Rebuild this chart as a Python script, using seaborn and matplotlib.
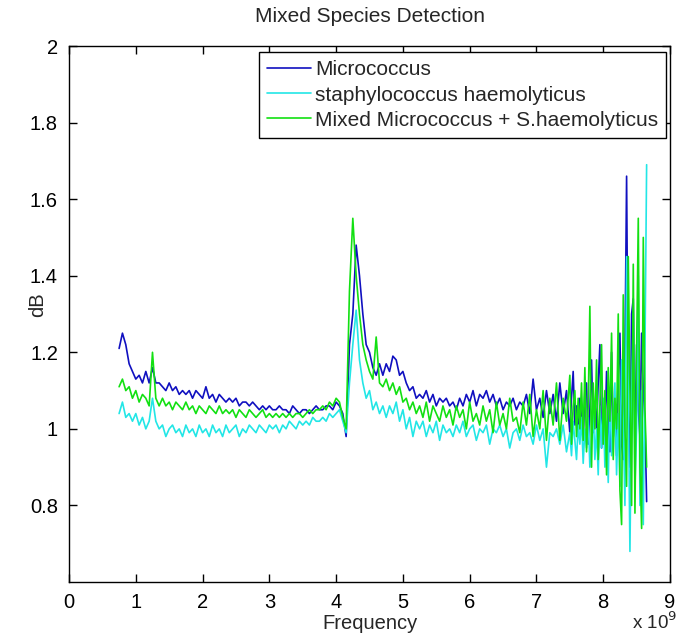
import numpy as np
import pandas as pd
import matplotlib
matplotlib.use("Agg")
import matplotlib.pyplot as plt
import seaborn as sns

# frequency sweep (x 10^9 Hz); finer where the traces get noisy
freq_ghz = [
    0.75, 0.80, 0.85, 0.90, 0.95, 1.00, 1.05, 1.10, 1.15, 1.20,
    1.25, 1.30, 1.35, 1.40, 1.45, 1.50, 1.55, 1.60, 1.65, 1.70,
    1.75, 1.80, 1.85, 1.90, 1.95, 2.00, 2.05, 2.10, 2.15, 2.20,
    2.25, 2.30, 2.35, 2.40, 2.45, 2.50, 2.55, 2.60, 2.65, 2.70,
    2.75, 2.80, 2.85, 2.90, 2.95, 3.00, 3.05, 3.10, 3.15, 3.20,
    3.25, 3.30, 3.35, 3.40, 3.45, 3.50, 3.55, 3.60, 3.65, 3.70,
    3.75, 3.80, 3.85, 3.90, 3.95, 4.00, 4.05, 4.10, 4.15, 4.20,
    4.25, 4.30, 4.35, 4.40, 4.45, 4.50, 4.55, 4.60, 4.65, 4.70,
    4.75, 4.80, 4.85, 4.90, 4.95, 5.00, 5.05, 5.10, 5.15, 5.20,
    5.25, 5.30, 5.35, 5.40, 5.45, 5.50, 5.55, 5.60, 5.65, 5.70,
    5.75, 5.80, 5.85, 5.90, 5.95, 6.00, 6.05, 6.10, 6.15, 6.20,
    6.25, 6.30, 6.35, 6.40, 6.45, 6.50, 6.55, 6.60, 6.65, 6.70,
    6.75, 6.80, 6.85, 6.90, 6.95, 7.00, 7.05, 7.10, 7.15, 7.20,
    7.25, 7.30, 7.35, 7.40, 7.45,
    7.500, 7.525, 7.550, 7.575, 7.600, 7.625, 7.650, 7.675, 7.700, 7.725,
    7.750, 7.775, 7.800, 7.825, 7.850, 7.875, 7.900, 7.925, 7.950, 7.975,
    8.000, 8.025, 8.050, 8.075, 8.100, 8.125, 8.150, 8.175, 8.200, 8.225,
    8.250, 8.275, 8.300, 8.325, 8.350, 8.375, 8.400, 8.425, 8.450, 8.475,
    8.500, 8.525, 8.550, 8.575, 8.600, 8.625, 8.650,
]

micrococcus = [
    1.21, 1.25, 1.22, 1.17, 1.15, 1.13, 1.14, 1.12, 1.15, 1.12,
    1.16, 1.12, 1.12, 1.11, 1.10, 1.12, 1.10, 1.11, 1.09, 1.10,
    1.09, 1.10, 1.08, 1.10, 1.09, 1.08, 1.11, 1.08, 1.09, 1.07,
    1.09, 1.08, 1.07, 1.08, 1.07, 1.08, 1.06, 1.07, 1.07, 1.06,
    1.07, 1.06, 1.05, 1.06, 1.05, 1.06, 1.05, 1.05, 1.06, 1.05,
    1.05, 1.04, 1.06, 1.05, 1.04, 1.05, 1.05, 1.04, 1.05, 1.06,
    1.05, 1.05, 1.06, 1.06, 1.05, 1.07, 1.06, 1.04, 0.98, 1.22,
    1.30, 1.48, 1.40, 1.30, 1.22, 1.20, 1.16, 1.14, 1.17, 1.14,
    1.17, 1.15, 1.19, 1.18, 1.14, 1.15, 1.12, 1.10, 1.11, 1.08,
    1.09, 1.08, 1.10, 1.07, 1.09, 1.06, 1.08, 1.07, 1.08, 1.06,
    1.07, 1.05, 1.08, 1.06, 1.09, 1.07, 1.10, 1.06, 1.09, 1.08,
    1.10, 1.07, 1.09, 1.06, 1.08, 1.05, 1.07, 1.06, 1.08, 1.05,
    1.07, 1.06, 1.09, 1.04, 1.13, 1.05, 1.08, 1.03, 1.10, 1.04,
    1.09, 1.02, 1.12, 1.04, 1.10,
    0.99, 1.08, 1.15, 1.01, 1.06, 0.98, 1.08, 1.03, 0.97, 1.10,
    1.12, 0.96, 1.05, 1.18, 0.99, 1.07, 1.00, 1.12, 1.22, 0.95,
    1.06, 0.97, 1.15, 1.02, 0.94, 1.20, 0.98, 1.08, 0.93, 1.14,
    1.25, 0.96, 0.92, 1.18, 1.66, 1.05, 0.90, 1.30, 1.34, 0.95,
    1.22, 1.05, 0.98, 1.25, 1.10, 1.02, 0.81,
]

staph_haemolyticus = [
    1.04, 1.07, 1.03, 1.04, 1.02, 1.04, 1.01, 1.03, 1.00, 1.02,
    1.08, 1.02, 1.00, 1.01, 0.98, 1.00, 1.01, 0.99, 1.00, 0.98,
    1.01, 0.99, 1.00, 0.98, 1.01, 0.99, 1.00, 0.98, 1.01, 0.99,
    1.00, 0.98, 1.01, 0.99, 1.00, 1.01, 0.98, 1.00, 0.99, 1.01,
    1.00, 0.99, 1.01, 1.00, 0.99, 1.01, 1.00, 1.01, 0.99, 1.01,
    1.00, 1.02, 1.01, 1.00, 1.02, 1.01, 1.02, 1.01, 1.03, 1.02,
    1.02, 1.03, 1.02, 1.04, 1.03, 1.04, 1.05, 1.02, 0.99, 1.12,
    1.22, 1.31, 1.18, 1.12, 1.08, 1.10, 1.05, 1.07, 1.04, 1.06,
    1.03, 1.06, 1.04, 1.07, 1.02, 1.05, 1.00, 1.03, 0.98, 1.02,
    1.00, 1.02, 0.98, 1.01, 0.99, 1.02, 0.97, 1.01, 0.99, 1.00,
    0.98, 1.01, 0.99, 1.02, 0.98, 1.00, 1.01, 0.97, 1.00, 0.99,
    1.01, 0.96, 1.00, 0.99, 1.01, 0.98, 1.00, 0.95, 0.99, 1.00,
    0.97, 1.01, 0.98, 0.99, 0.96, 1.01, 0.97, 1.00, 0.90, 0.99,
    0.98, 1.00, 0.96, 1.01, 0.94,
    0.99, 0.93, 1.02, 0.97, 0.92, 1.01, 0.96, 1.03, 0.91, 1.00,
    0.95, 1.03, 0.90, 0.98, 1.05, 0.92, 1.00, 0.88, 1.06, 0.95,
    1.08, 0.90, 1.02, 0.86, 1.10, 0.93, 0.98, 1.12, 0.88, 1.04,
    0.85, 1.18, 1.02, 0.80, 1.45, 1.10, 0.68, 1.08, 1.30, 0.85,
    1.00, 1.40, 0.80, 1.10, 0.75, 1.20, 1.69,
]

mixed = [
    1.11, 1.13, 1.10, 1.11, 1.08, 1.10, 1.07, 1.09, 1.08, 1.06,
    1.20, 1.08, 1.06, 1.08, 1.06, 1.07, 1.05, 1.07, 1.06, 1.05,
    1.07, 1.05, 1.06, 1.04, 1.06, 1.05, 1.04, 1.06, 1.05, 1.04,
    1.06, 1.04, 1.05, 1.04, 1.05, 1.03, 1.05, 1.04, 1.03, 1.05,
    1.04, 1.03, 1.04, 1.05, 1.03, 1.04, 1.03, 1.04, 1.03, 1.04,
    1.03, 1.04, 1.03, 1.04, 1.04, 1.03, 1.04, 1.05, 1.04, 1.05,
    1.05, 1.06, 1.05, 1.07, 1.06, 1.08, 1.07, 1.03, 1.00, 1.36,
    1.55, 1.40, 1.30, 1.22, 1.18, 1.15, 1.13, 1.24, 1.12, 1.11,
    1.13, 1.10, 1.12, 1.09, 1.11, 1.07, 1.08, 1.05, 1.07, 1.04,
    1.06, 1.03, 1.07, 1.02, 1.06, 1.04, 1.02, 1.06, 1.03, 1.05,
    1.01, 1.06, 1.03, 1.05, 1.00, 1.07, 1.02, 1.04, 1.01, 1.06,
    1.02, 1.05, 0.99, 1.07, 1.01, 1.04, 1.00, 1.08, 1.02, 1.03,
    0.99, 1.07, 1.01, 1.09, 0.98, 1.05, 1.00, 1.10, 0.97, 1.08,
    1.01, 1.12, 0.97, 1.08, 1.02,
    1.14, 0.96, 1.06, 1.10, 0.98, 1.08, 1.00, 1.12, 0.97, 1.16,
    0.94, 1.06, 1.32, 0.90, 1.12, 1.00, 1.18, 0.92, 1.06, 1.22,
    0.96, 1.10, 0.88, 1.16, 1.02, 1.25, 0.92, 1.08, 1.00, 1.30,
    0.84, 0.75, 1.35, 1.00, 0.85, 1.45, 1.10, 0.80, 1.43, 0.78,
    1.20, 1.55, 0.90, 0.74, 1.50, 1.05, 0.90,
]

series_names = ["Micrococcus", "staphylococcus haemolyticus",
                "Mixed Micrococcus + S.haemolyticus"]
series_colors = ["#1010C0", "#22E6E6", "#12E012"]

df = pd.concat([
    pd.DataFrame({"freq": freq_ghz, "dB": vals, "species": name})
    for name, vals in zip(series_names, [micrococcus, staph_haemolyticus, mixed])
])

sns.set_style("ticks")
plt.rcParams["font.family"] = ["Liberation Sans", "DejaVu Sans"]

fig = plt.figure(figsize=(6.78, 6.34), dpi=100)
ax = fig.add_axes([0.1018, 0.082, 0.8864, 0.8454])

sns.lineplot(data=df, x="freq", y="dB", hue="species", hue_order=series_names,
             palette=series_colors, linewidth=1.2, sort=False, estimator=None,
             ax=ax)

ax.set_xlim(0, 9)
ax.set_ylim(0.6, 2)
ax.set_xticks(range(10))
ax.set_yticks([0.8, 1.0, 1.2, 1.4, 1.6, 1.8, 2.0])
ax.set_yticklabels(["0.8", "1", "1.2", "1.4", "1.6", "1.8", "2"])
ax.tick_params(direction="in", top=True, right=True, length=6, width=1,
               labelsize=14.5, colors="black", pad=8)
for sp in ax.spines.values():
    sp.set_visible(True)
    sp.set_linewidth(1.0)
    sp.set_color("black")

ax.set_title("Mixed Species Detection", fontsize=15, pad=17)
ax.set_xlabel("Frequency", fontsize=14.5, labelpad=1)
ax.set_ylabel("dB", fontsize=14.5)
ax.yaxis.set_label_coords(-0.036, 0.517)
fig.text(0.999, 0.002, r"x 10$^9$", fontsize=13.5, ha="right", va="bottom")

leg = ax.legend(loc="upper right", bbox_to_anchor=(0.994, 0.989),
                borderaxespad=0, fontsize=15, frameon=True, fancybox=False,
                edgecolor="black", framealpha=1, handlelength=2.1,
                handletextpad=0.2, borderpad=0.4, labelspacing=0.3)
leg.get_frame().set_linewidth(1.0)

fig.savefig("out.png", dpi=100)
